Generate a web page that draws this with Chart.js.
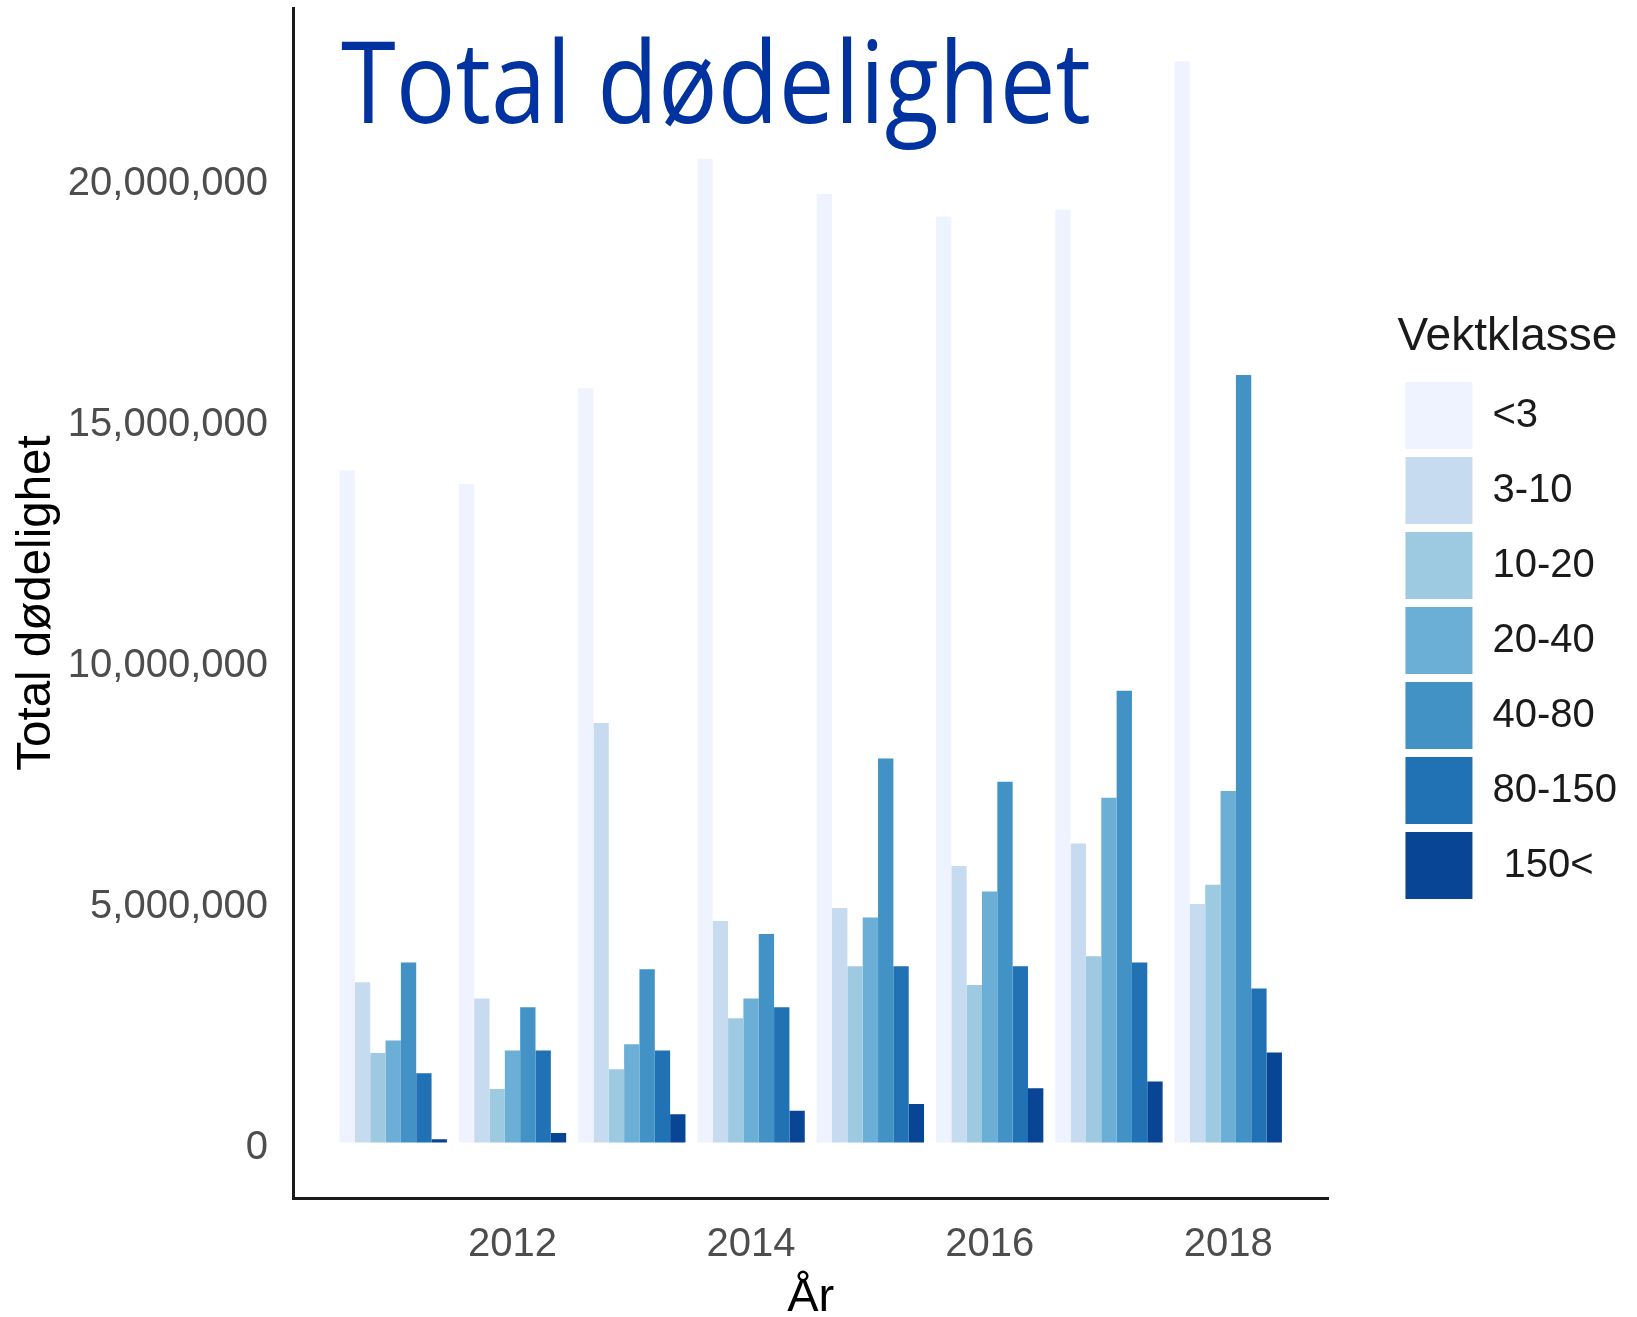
<!DOCTYPE html>
<html><head><meta charset="utf-8">
<script src="https://cdn.jsdelivr.net/npm/chart.js@4.4.1/dist/chart.umd.min.js"></script>
<style>
html,body{margin:0;padding:0;background:#fff;}
#wrap{position:relative;width:1637px;height:1317px;}
#c{position:absolute;left:0;top:0;}
#ttl{position:absolute;left:0;top:0;pointer-events:none;}
</style></head><body>
<div id="wrap">
<canvas id="c" width="1637" height="1317"></canvas>
<svg id="ttl" width="1637" height="200"><text x="341" y="123" textLength="750" lengthAdjust="spacingAndGlyphs" font-family="Open Sans" font-size="113" fill="#0033A0">Total dødelighet</text></svg>
</div>
<script>
const years = [2011, 2012, 2013, 2014, 2015, 2016, 2017, 2018];
const classLabels = ['<3', '3-10', '10-20', '20-40', '40-80', '80-150', ' 150<'];
const classColors = ['#EFF3FF', '#C6DBEF', '#9ECAE1', '#6BAED6', '#4292C6', '#2171B5', '#084594'];
const lt3     = [13950000, 13670000, 15660000, 20420000, 19690000, 19220000, 19360000, 22440000];
const w3_10   = [3330000, 2990000, 8710000, 4600000, 4870000, 5740000, 6210000, 4950000];
const w10_20  = [1860000, 1110000, 1520000, 2580000, 3660000, 3270000, 3870000, 5350000];
const w20_40  = [2120000, 1910000, 2040000, 2990000, 4670000, 5210000, 7160000, 7300000];
const w40_80  = [3740000, 2810000, 3600000, 4330000, 7970000, 7490000, 9380000, 15930000];
const w80_150 = [1440000, 1910000, 1910000, 2810000, 3660000, 3660000, 3740000, 3200000];
const w150    = [70000, 200000, 590000, 660000, 800000, 1130000, 1270000, 1870000];
const yTicks = [0, 5000000, 10000000, 15000000, 20000000];
const xTicks = [2012, 2014, 2016, 2018];

const series = [lt3, w3_10, w10_20, w20_40, w40_80, w80_150, w150];
const FONT = '"Liberation Sans", Arial, sans-serif';

const datasets = series.map((vals, i) => ({
  label: classLabels[i],
  data: years.map((yr, j) => ({x: yr, y: vals[j]})),
  backgroundColor: classColors[i],
  borderWidth: 0,
  xAxisID: 'x',
  yAxisID: 'y',
  categoryPercentage: 0.9,
  barPercentage: 1.0
}));

function zeroPad(s) { s.paddingTop = 0; s.paddingBottom = 0; s.paddingLeft = 0; s.paddingRight = 0; }

new Chart(document.getElementById('c'), {
  type: 'bar',
  data: { datasets },
  options: {
    responsive: false,
    animation: false,
    devicePixelRatio: 1,
    layout: { padding: { top: 8, right: 10, left: 0, bottom: 0 } },
    plugins: {
      tooltip: { enabled: false },
      legend: {
        position: 'right',
        align: 'center',
        fullSize: false,
        labels: {
          boxWidth: 67,
          boxHeight: 67,
          padding: 8,
          color: '#1a1a1a',
          font: { family: FONT, size: 40 }
        },
        title: {
          display: true,
          text: 'Vektklasse',
          color: '#1a1a1a',
          position: 'start',
          font: { family: FONT, size: 46 },
          padding: { top: 15, bottom: 5 }
        }
      }
    },
    scales: {
      x: {
        type: 'linear',
        position: 'bottom',
        offset: false,
        min: 2010.16,
        max: 2018.84,
        grid: { display: false, offset: false },
        border: { display: true, color: '#1a1a1a', width: 3 },
        afterBuildTicks: s => { s.ticks = xTicks.map(v => ({value: v})); },
        ticks: {
          autoSkip: false,
          maxRotation: 0,
          padding: 15,
          color: '#4d4d4d',
          font: { family: FONT, size: 40 },
          callback: v => String(v)
        },
        title: {
          display: true,
          text: 'År',
          color: '#000',
          font: { family: FONT, size: 47, lineHeight: 0.8 },
          padding: { top: 0, bottom: 0 }
        },
        afterFit: s => { s.height = 119; zeroPad(s); }
      },
      y: {
        type: 'linear',
        position: 'left',
        min: -1150000,
        max: 23550000,
        grid: { display: false },
        border: { display: true, color: '#1a1a1a', width: 3 },
        afterBuildTicks: s => { s.ticks = yTicks.map(v => ({value: v})); },
        ticks: {
          padding: 17,
          labelOffset: 5,
          color: '#4d4d4d',
          font: { family: FONT, size: 40 },
          callback: v => Number(v).toLocaleString('en-US')
        },
        title: {
          display: true,
          text: 'Total dødelighet',
          color: '#000',
          font: { family: FONT, size: 47.5 },
          padding: { top: 8, bottom: 0 }
        },
        afterFit: s => { s.width = 293; zeroPad(s); }
      },
      gap: {
        type: 'linear',
        position: 'right',
        display: true,
        grid: { display: false },
        border: { display: false },
        ticks: { display: false },
        afterFit: s => { s.width = 69; zeroPad(s); }
      }
    }
  }
});
</script>
</body></html>
